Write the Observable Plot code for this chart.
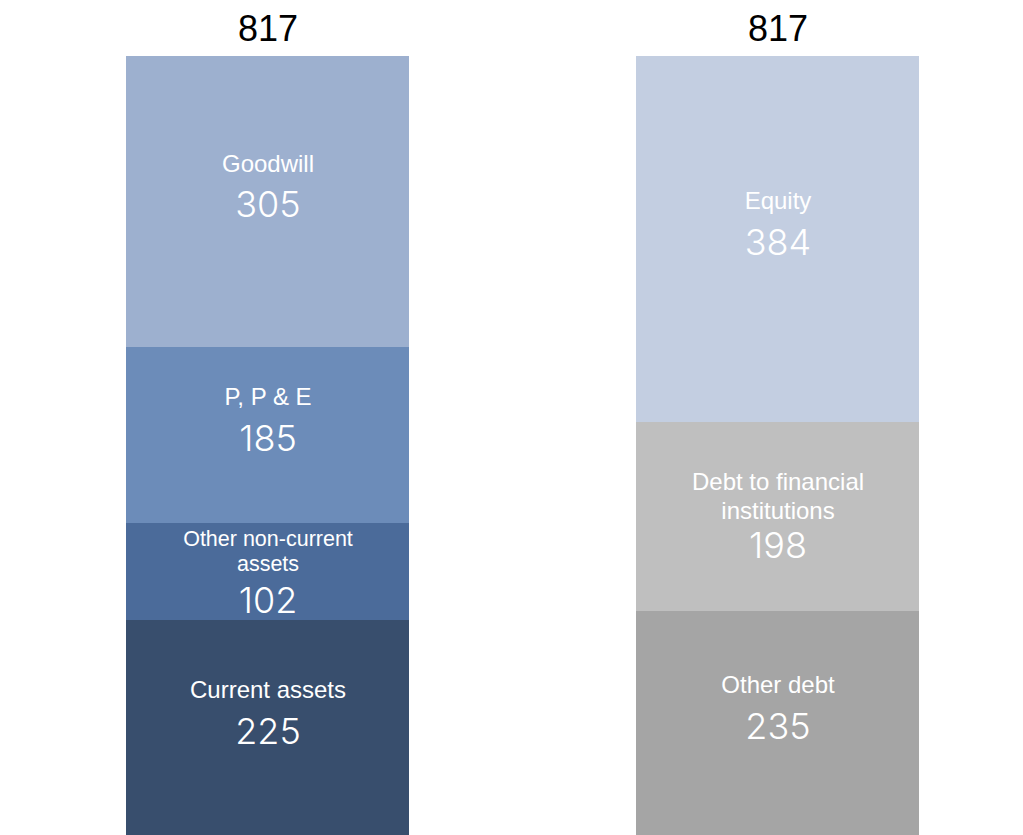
<!DOCTYPE html>
<html>
<head>
<meta charset="utf-8">
<script src="https://cdn.jsdelivr.net/npm/d3@7"></script>
<script src="https://cdn.jsdelivr.net/npm/@observablehq/plot@0.6"></script>
<style>
  html, body { margin: 0; padding: 0; background: #ffffff; }
  svg { display: block; }
</style>
</head>
<body>
<script>
// ---- data ----
const columns = ["Assets", "Liabilities & equity"];
const totals = [817, 817];
const assetNames = ["Current assets", "Other non-current\nassets", "P, P & E", "Goodwill"];
const assetValues = [225, 102, 185, 305];
const fundNames = ["Other debt", "Debt to financial\ninstitutions", "Equity"];
const fundValues = [235, 198, 384];

// ---- colours ----
const assetColors = ["#384e6d", "#4b6b9a", "#6c8cb9", "#9db0cf"];
const fundColors = ["#a5a5a5", "#bfbfbf", "#c3cee1"];

// ---- build stacked rows ----
function stackRows(col, names, values) {
  let acc = 0;
  return names.map((name, i) => {
    const y0 = acc;
    acc += values[i];
    return { col, name, value: values[i], y0, y1: acc, mid: (y0 + acc) / 2, multi: name.includes("\n") };
  });
}
const rows = [
  ...stackRows(columns[0], assetNames, assetValues),
  ...stackRows(columns[1], fundNames, fundValues)
];
const totalRows = columns.map((c, i) => ({ col: c, total: totals[i] }));

const nameFont = "'Liberation Sans', Arial, sans-serif";
const valueFont = "Inter, 'Open Sans', sans-serif";
const nameSize = d => (d.value < 150 ? 21.5 : 24);

const chart = Plot.plot({
  width: 1023,
  height: 835,
  marginTop: 56,
  marginBottom: 0,
  marginLeft: 125,
  marginRight: 103,
  style: { background: "#ffffff", overflow: "visible" },
  x: { domain: columns, paddingInner: 0.4442, paddingOuter: 0, axis: null },
  y: { domain: [0, 817], axis: null },
  color: { domain: [...assetNames, ...fundNames], range: [...assetColors, ...fundColors] },
  marks: [
    Plot.barY(rows, { x: "col", y1: "y0", y2: "y1", fill: "name", inset: 0, shapeRendering: "crispEdges" }),
    // single-line names
    Plot.text(rows.filter(d => !d.multi), {
      x: "col", y: "mid", text: "name", dy: -38,
      fill: "white", fontSize: nameSize, fontFamily: nameFont
    }),
    Plot.text(rows.filter(d => !d.multi), {
      x: "col", y: "mid", text: d => String(d.value), dy: 4,
      fill: "white", fontSize: 36, fontWeight: 300, fontFamily: valueFont
    }),
    // two-line names
    Plot.text(rows.filter(d => d.multi), {
      x: "col", y: "mid", text: "name", dy: -22, lineHeight: 1.2,
      fill: "white", fontSize: nameSize, fontFamily: nameFont
    }),
    Plot.text(rows.filter(d => d.multi), {
      x: "col", y: "mid", text: d => String(d.value), dy: 29,
      fill: "white", fontSize: 36, fontWeight: 300, fontFamily: valueFont
    }),
    // totals
    Plot.text(totalRows, {
      x: "col", y: "total", text: d => String(d.total), dy: -27,
      fill: "black", fontSize: 36, fontFamily: nameFont
    })
  ]
});
document.body.appendChild(chart);
</script>
</body>
</html>
